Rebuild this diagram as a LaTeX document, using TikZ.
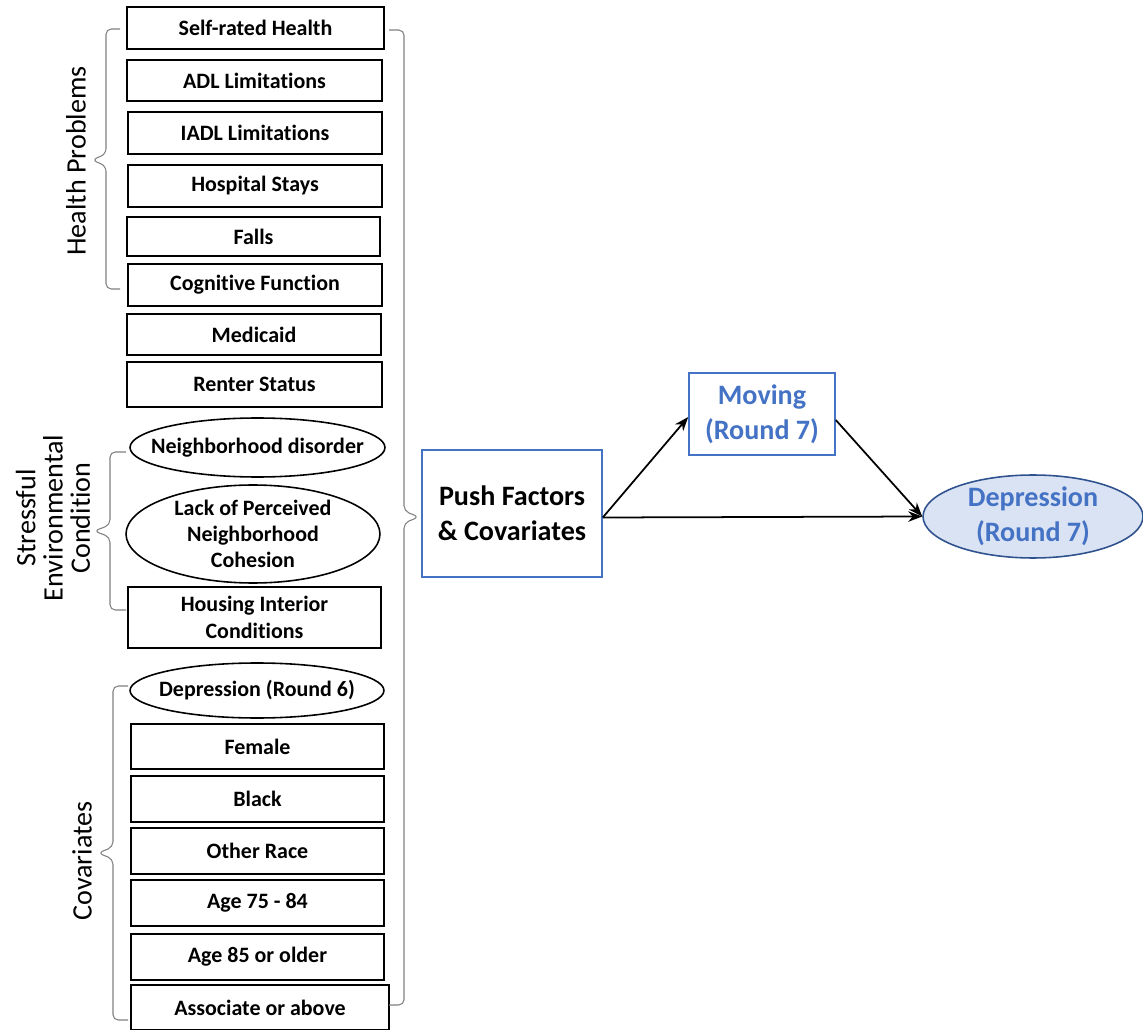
\documentclass[tikz,border=0pt]{standalone}
\usepackage{fontspec}
\setmainfont{Carlito}[Ligatures=NoCommon]
\usepackage{tikz}
\usetikzlibrary{arrows.meta,positioning,calc,shapes.geometric}
\usepackage{xcolor}
\definecolor{officeblue}{RGB}{68,114,196}
\definecolor{depfill}{RGB}{218,227,243}
\definecolor{depdraw}{RGB}{47,82,143}
\definecolor{bracegray}{RGB}{128,128,128}

\begin{document}
\begin{tikzpicture}[
    x=0.02cm,y=-0.02cm,
    box/.style={draw,line width=0.9pt,minimum width=5.08cm,minimum height=0.84cm,inner sep=0pt,align=center,font=\fontsize{12.5}{15}\selectfont\bfseries},
    ell/.style={draw,ellipse,line width=0.9pt,minimum width=5.08cm,inner sep=0pt},
    grp/.style={rotate=90,align=center,font=\fontsize{16}{15.5}\selectfont},
    bracket/.style={draw=bracegray,line width=0.6pt,rounded corners=3pt},
    big/.style={align=center,font=\fontsize{16}{20}\selectfont\bfseries},
    every label/.style={align=center,font=\fontsize{12.5}{15}\selectfont\bfseries},
    >={Stealth[length=8pt,width=6pt]}
]
\useasboundingbox (0,0) rectangle (1143,1030);

% push factors column
\node[box,minimum width=5.14cm] (srh) at (255.5,28) {Self-rated Health};
\node[box,minimum width=5.1cm,minimum height=0.82cm] (adl) at (254.5,80.5) {ADL Limitations};
\node[box] (iadl) at (255,133) {IADL Limitations};
\node[box] (hosp) at (255,186) {Hospital Stays};
\node[box,minimum width=5.06cm,minimum height=0.78cm] (falls) at (253.5,236.5) {Falls};
\node[box] (cog) at (255,285) {Cognitive Function};
\node[box,minimum height=0.82cm] (medicaid) at (254,334.5) {Medicaid};
\node[box,minimum width=5.1cm,minimum height=0.9cm] (renter) at (254.5,384.5) {Renter Status};
\node[ell,minimum width=5.1cm,minimum height=1.18cm,label=center:Neighborhood disorder] (disorder) at (257.5,447.5) {};
\node[ell,minimum height=1.96cm,label=center:{Lack of Perceived\\Neighborhood\\Cohesion}] (cohesion) at (253,534) {};
\node[box,minimum width=5.06cm,minimum height=1.22cm] (housing) at (254.5,617.5) {Housing Interior\\Conditions};
\node[ell,minimum height=1.1cm,label=center:Depression (Round 6)] (dep6) at (257,690.5) {};
\node[box,minimum width=5.06cm,minimum height=0.9cm] (female) at (257.5,746.5) {Female};
\node[box,minimum width=5.06cm,minimum height=0.92cm] (black) at (257.5,799) {Black};
\node[box,minimum width=5.06cm,minimum height=0.92cm] (other) at (257.5,851) {Other Race};
\node[box,minimum width=5.06cm,minimum height=0.92cm] (age1) at (257.5,903) {Age 75 - 84};
\node[box,minimum width=5.06cm,minimum height=0.92cm] (age2) at (257.5,957) {Age 85 or older};
\node[box,minimum width=5.16cm,minimum height=0.9cm] (assoc) at (260,1007.5) {Associate or above};

% group braces and labels
\draw[bracket] (120,29) -- (106,29) -- (106,154) -- (92,160) -- (106,166) -- (106,289) -- (120,289);
\draw[bracket] (126,452) -- (110,452) -- (110,525) -- (94,531) -- (110,537) -- (110,610) -- (126,610);
\draw[bracket] (128,686) -- (113,686) -- (113,847) -- (98,853) -- (113,859) -- (113,1020) -- (128,1020);
\draw[bracket] (389,30) -- (404,30) -- (404,511) -- (419,517) -- (404,523) -- (404,1005) -- (389,1005);
\node[grp] (hplabel) at (76,161) {Health Problems};
\node[grp] (selabel) at (53,518) {Stressful\\Environmental\\Condition};
\node[grp] (covlabel) at (82,861) {Covariates};

% mediation part
\node[big,draw=officeblue,line width=0.9pt,minimum width=3.6cm,minimum height=2.54cm] (push) at (512,513.5) {Push Factors\\\& Covariates};
\node[big,draw=officeblue,text=officeblue,line width=0.9pt,minimum width=2.92cm,minimum height=1.64cm] (moving) at (762,414) {Moving\\(Round 7)};
\node[ell,draw=depdraw,fill=depfill,minimum width=4.4cm,minimum height=1.66cm,label={[big,text=officeblue]center:Depression\\(Round 7)}] (dep7) at (1033,516.5) {};

\draw[->,line width=1pt] ($(push.east)+(0,4)$) -- ($(moving.west)+(0,3)$);
\draw[->,line width=1pt] ($(moving.east)+(0,6)$) -- (dep7.west);
\draw[->,line width=1pt] ($(push.east)+(0,4)$) -- (dep7.west);
\end{tikzpicture}
\end{document}
